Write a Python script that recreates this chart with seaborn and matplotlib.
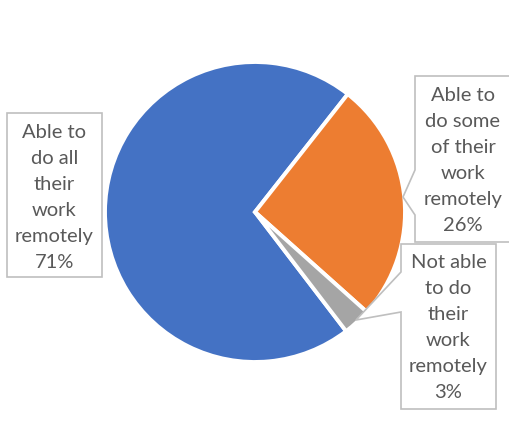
import matplotlib
matplotlib.use("Agg")
import matplotlib.pyplot as plt
from matplotlib.patches import Polygon
import seaborn as sns

# Share of workers by how much of their work can be done remotely
categories = ["Able to do all their work remotely",
              "Able to do some of their work remotely",
              "Not able to do their work remotely"]
label_lines = [["Able to", "do all", "their", "work", "remotely"],
               ["Able to", "do some", "of their", "work", "remotely"],
               ["Not able", "to do", "their", "work", "remotely"]]
shares = [71, 26, 3]
colors = ["#4472C4", "#ED7D31", "#A5A5A5"]

sns.set_theme(style="white")
plt.rcParams["font.family"] = ["Lato", "DejaVu Sans"]

W, H = 509, 423
fig = plt.figure(figsize=(W / 100, H / 100), dpi=100)
ax = fig.add_axes([0, 0, 1, 1])

cx, cy, r = 255, H - 212, 150
ax.pie(shares, colors=colors, startangle=-52.6, counterclock=False,
       center=(cx, cy), radius=r, frame=True,
       wedgeprops=dict(edgecolor="white", linewidth=2.8))
ax.set_xlim(0, W)
ax.set_ylim(0, H)
ax.set_aspect("equal")
ax.axis("off")


def flip(pts):
    return [(x, H - y) for x, y in pts]


# callout outlines (y measured downward from the top edge)
boxes = [
    [(7, 113), (102, 113), (102, 277), (7, 277)],
    [(415, 76), (511, 76), (511, 242), (415, 242), (415, 215), (403, 197), (415, 170)],
    [(401, 244), (496, 244), (496, 409), (401, 409), (401, 312), (356, 320), (401, 272)],
]
text_centers = [(54.5, 197), (463, 160), (448.5, 327)]

for pts, (tx, ty), lines, val in zip(boxes, text_centers, label_lines, shares):
    ax.add_patch(Polygon(flip(pts), closed=True, facecolor="white",
                         edgecolor="#BFBFBF", linewidth=1.2, zorder=3))
    all_lines = lines + [f"{val}%"]
    n = len(all_lines)
    step = 26
    for i, line in enumerate(all_lines):
        y = ty + (i - (n - 1) / 2) * step
        ax.text(tx, H - y, line, ha="center", va="center", fontsize=14.5,
                color="#595959", zorder=4)

fig.savefig("out.png", dpi=100, facecolor="white")
